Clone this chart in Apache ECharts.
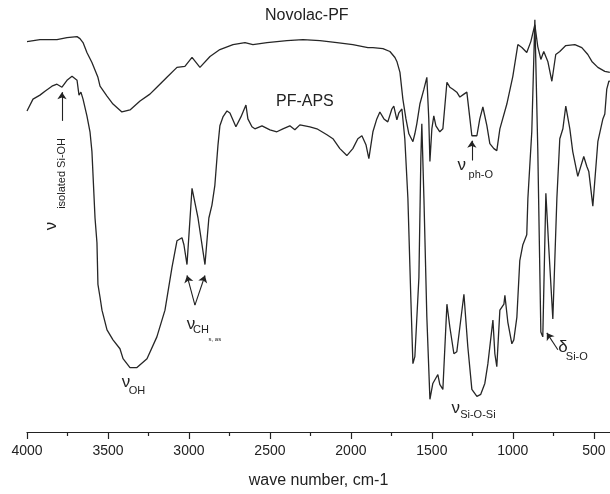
<!DOCTYPE html>
<html>
<head>
<meta charset="utf-8">
<script src="https://cdn.jsdelivr.net/npm/echarts@6/dist/echarts.min.js"></script>
<style>
html,body{margin:0;padding:0;background:#fff;}
#chart{width:610px;height:494px;}
</style>
</head>
<body>
<div id="chart"></div>
<script>
// ---- data (wavenumber in cm-1, transmittance in arbitrary units) ----
const novolacWn = [4000,3920,3815,3753,3691,3673,3654,3630,3599,3562,3549,3506,3469,3414,3364,3302,3241,3198,3136,3074,3025,2981,2932,2870,2809,2728,2654,2605,2518,2395,2296,2191,2086,1988,1895,1864,1802,1759,1728,1716,1697,1679,1660,1642,1630,1617,1605,1593,1574,1549,1531,1519,1512,1500,1488,1475,1451,1432,1407,1389,1370,1346,1327,1302,1284,1265,1253,1222,1204,1185,1160,1142,1117,1099,1080,1037,1000,969,944,914,889,864,846,827,809,784,759,735,710,673,617,574,537,512,475,432,401];
const novolacT = [98.5,99,99,99.5,99.75,99.25,98.25,95.75,93.25,89.5,87.25,84.75,82.75,80.75,81.25,83.5,85.25,87,89.5,92,92.25,94.5,92,94.75,96.5,97.75,98.25,97.75,98.25,98.75,99,98.75,98.25,97.75,97,97,96.75,96,94.5,93.5,90.75,84,79,75.25,75.75,73.25,75.25,77.75,82.75,86.5,89.5,79,68.25,76.5,79.75,77.25,75.75,76.5,88.25,87,86.5,85.75,84.5,85.25,85.75,79,74.75,74.75,79,82,77.25,72.75,71.5,71,76.5,82.75,89.75,97.75,97,95.75,98.5,102.75,97.25,94,96,93.5,88.5,95.25,96,97.5,97.75,97,95.25,93.5,92,91,90.75];

const apsWn = [4000,3963,3920,3889,3846,3815,3784,3753,3722,3691,3679,3667,3654,3630,3611,3599,3580,3568,3562,3549,3537,3506,3469,3426,3407,3364,3321,3259,3198,3148,3105,3074,3043,3031,3012,2981,2944,2901,2877,2858,2840,2821,2809,2790,2765,2747,2710,2679,2648,2636,2611,2593,2549,2500,2457,2420,2377,2346,2315,2253,2210,2148,2111,2068,2025,1988,1957,1932,1907,1889,1864,1840,1821,1796,1772,1747,1735,1716,1704,1685,1667,1648,1630,1617,1605,1593,1580,1568,1562,1549,1531,1512,1506,1494,1482,1463,1451,1432,1407,1389,1364,1346,1327,1302,1278,1253,1222,1198,1173,1154,1123,1111,1099,1080,1055,1049,1031,1006,994,975,957,938,914,907,883,864,846,827,815,796,778,753,728,710,691,673,648,630,599,562,543,531,506,475,444,432,420,407,401];
const apsT = [81,84,85,86,87.25,87.75,87,88.75,89.75,88.75,85,85.75,84,79.75,75.75,70.75,54,47.75,37.25,34,30.75,25.75,23.25,21,18.5,16.25,16.25,18.5,24,30.75,41.5,48.25,49,47.25,42.25,61.5,54,42.25,54,57.25,62.25,72.25,77.25,79.5,81,80.5,77,79.5,82.5,79,77,76.5,77.25,76.25,75.75,76.5,77.25,76.25,77.5,77,76.5,75,74,71.5,69.75,71.5,74,74.75,72.5,69,75.75,79,80.75,79,78.25,81.5,82.25,78.75,80.5,81.5,74,59,34,17.25,19,19.5,39,69,77.75,59,29,8.25,8.5,12.25,12,14.5,12,10.75,32.25,26.5,19.75,20.25,26.5,34.75,21.5,10.75,9,9.5,12.25,17.25,28.25,19.75,16.5,30.75,32.25,34.5,27.75,22.25,23.25,29,43.25,47.25,49.75,59,75.75,104,71.5,25.25,24,60.25,46.5,28.5,59,74,76.5,82.25,76.5,70.75,64.5,69.5,67,65.75,57,73.25,79,80.25,86.5,88.5,88.5];

const majorTicks = [4000,3500,3000,2500,2000,1500,1000,500];
const minorTicks = [3750,3250,2750,2250,1750,1250,750];
const xName = 'wave number, cm-1';

// annotation texts anchored in data coordinates
const labels = [
  {text:'Novolac-PF', at:[2272,105], size:16},
  {text:'PF-APS', at:[2284,83.25], size:16},
  {text:'ν', at:[3852,52], size:17, rotate:true},
  {text:'isolated Si-OH', at:[3784,65.25], size:11, rotate:true},
  {text:'ν', at:[3389,12.5], size:17},
  {text:'OH', at:[3321,10.25], size:11},
  {text:'ν', at:[2988,27.25], size:17},
  {text:'CH', at:[2926,25.75], size:11},
  {text:'s, as', at:[2840,23.5], size:6},
  {text:'ν', at:[1315,67.25], size:17},
  {text:'ph-O', at:[1198,64.75], size:11},
  {text:'ν', at:[1352,6], size:17},
  {text:'Si-O-Si', at:[1216,4.25], size:11},
  {text:'δ', at:[691,21.25], size:17},
  {text:'Si-O', at:[605,19], size:11}
];
const arrows = [
  [[3784,78.5],[3784,85.75]],
  [[2963,32],[3012,39.5]],
  [[2963,32],[2901,39.5]],
  [[1253,68.5],[1253,73.5]],
  [[722,20.75],[790,25]]
];

const FONT = '"Liberation Sans", Arial, sans-serif';
const zip = (a,b) => a.map((x,i)=>[x,b[i]]);

const chart = echarts.init(document.getElementById('chart'), null, {renderer:'canvas'});
const axisCommon = {
  type:'value', min:400, max:4000, inverse:true,
  splitLine:{show:false}
};
chart.setOption({
  animation:false,
  backgroundColor:'#fff',
  grid:{left:27, right:0, top:0, bottom:58, containLabel:false},
  xAxis:[
    Object.assign({}, axisCommon, {
      position:'bottom',
      name:xName, nameLocation:'middle', nameGap:41,
      nameTextStyle:{fontFamily:FONT, fontSize:16, color:'#222'},
      axisLine:{show:true, onZero:false, lineStyle:{color:'#222', width:1.2}},
      axisTick:{show:true, length:7, lineStyle:{color:'#222', width:1.2}, customValues:majorTicks},
      axisLabel:{show:true, margin:12, fontFamily:FONT, fontSize:14, color:'#222',
        customValues:majorTicks, formatter: v => String(v)}
    }),
    Object.assign({}, axisCommon, {
      position:'bottom',
      axisLine:{show:false, onZero:false},
      axisTick:{show:true, length:4, lineStyle:{color:'#222', width:1.2}, customValues:minorTicks},
      axisLabel:{show:false}
    })
  ],
  yAxis:{type:'value', min:0, max:109, show:false},
  series:[
    {
      name:'Novolac-PF', type:'line', data:zip(novolacWn, novolacT),
      showSymbol:false, symbol:'none', smooth:false, clip:false,
      lineStyle:{color:'#262626', width:1.3}
    },
    {
      name:'PF-APS', type:'line', data:zip(apsWn, apsT),
      showSymbol:false, symbol:'none', smooth:false, clip:false,
      lineStyle:{color:'#262626', width:1.3},
      markLine:{
        silent:true, animation:false,
        symbol:['none','arrow'], symbolSize:7,
        label:{show:false},
        lineStyle:{color:'#222', width:1.1, type:'solid'},
        data: arrows.map(a => [{coord:a[0]},{coord:a[1]}])
      }
    }
  ]
});

const graphics = labels.map(l => {
  const p = chart.convertToPixel({xAxisIndex:0, yAxisIndex:0}, l.at);
  return {
    type:'text', x:p[0], y:p[1], rotation: l.rotate ? Math.PI/2 : 0,
    silent:true,
    style:{text:l.text, fontFamily:FONT, fontSize:l.size, fill:'#222',
      align:'center', verticalAlign:'middle'}
  };
});
chart.setOption({graphic:graphics});
</script>
</body>
</html>
